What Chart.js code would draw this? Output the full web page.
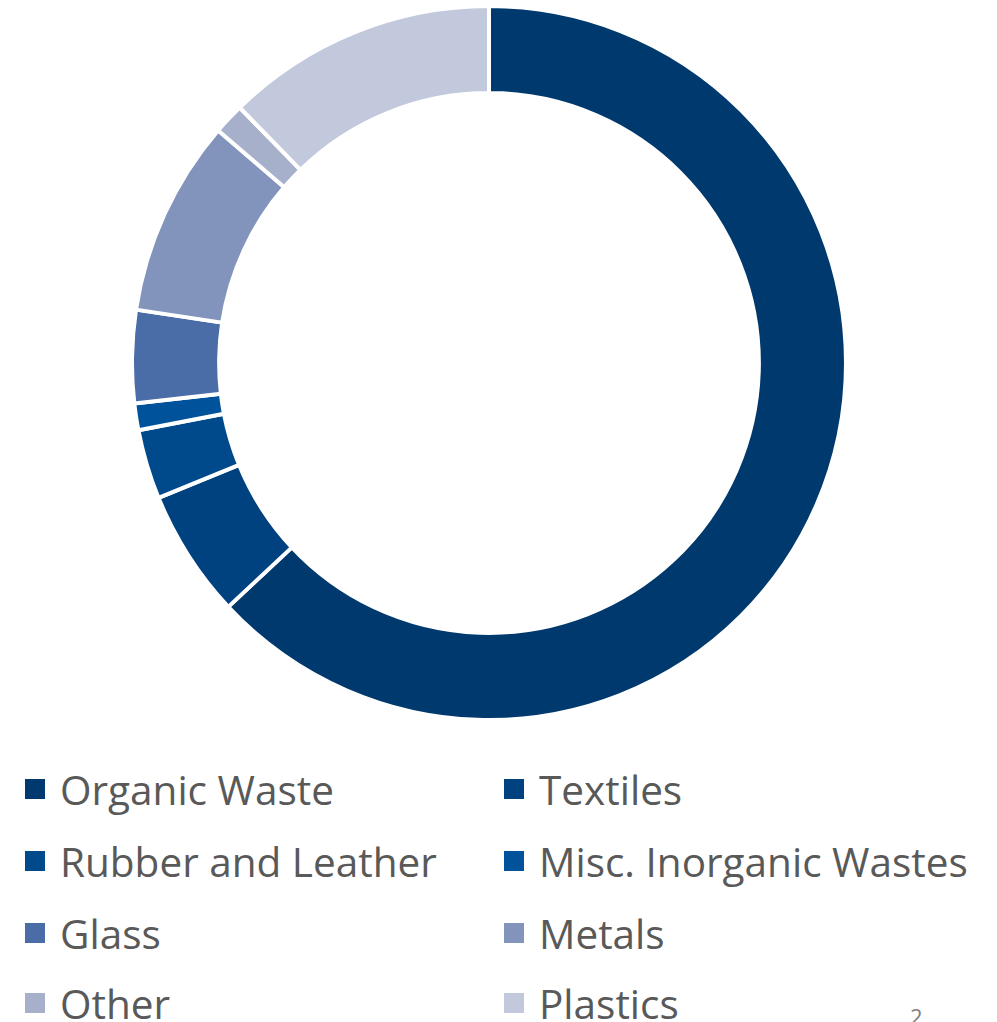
<!DOCTYPE html>
<html>
<head>
<meta charset="utf-8">
<script src="https://cdn.jsdelivr.net/npm/chart.js@4.4.1/dist/chart.umd.min.js"></script>
<style>
  html, body { margin: 0; padding: 0; background: #ffffff; }
  body { width: 997px; height: 1022px; position: relative; overflow: hidden; font-family: "Open Sans", "Noto Sans", sans-serif; }
  #wrap { position: absolute; left: 130px; top: 4px; width: 718px; height: 718px; }
  #legend { position: absolute; left: 0; top: 760px; width: 997px; }
  .item { position: absolute; display: flex; align-items: center; color: #595959; font-size: 40.5px; white-space: nowrap; }
  .box { width: 20px; height: 20px; margin-right: 15px; flex: none; }
  #pg { position: absolute; left: 910px; top: 1001px; font-size: 22px; color: #7f7f7f; }
</style>
</head>
<body>
<div id="wrap"><canvas id="c" width="718" height="718"></canvas></div>
<div id="legend"></div>
<div id="pg">2</div>
<script>
const categories = ["Organic Waste", "Textiles", "Rubber and Leather", "Misc. Inorganic Wastes", "Glass", "Metals", "Other", "Plastics"];
const shares = [63.0, 5.8, 3.15, 1.2, 4.2, 8.9, 1.4, 12.3];
const colors = ["#00396D", "#00427F", "#004A8B", "#00529A", "#4A6CA7", "#8294BB", "#A6B0CB", "#C2C9DC"];

const chart = new Chart(document.getElementById('c'), {
  type: 'doughnut',
  data: {
    labels: categories,
    datasets: [{
      data: shares,
      backgroundColor: colors,
      borderColor: '#ffffff',
      borderWidth: 4
    }]
  },
  options: {
    responsive: false,
    animation: false,
    cutout: '75.6%',
    layout: { padding: 0 },
    plugins: { legend: { display: false }, tooltip: { enabled: false } }
  }
});

// HTML legend built from the same arrays (two columns)
const legend = document.getElementById('legend');
const colX = [25, 504];
const rowY = [29, 101, 173, 243];
categories.forEach((name, i) => {
  const d = document.createElement('div');
  d.className = 'item';
  d.style.left = colX[i % 2] + 'px';
  d.style.top = (rowY[Math.floor(i / 2)] - 30) + 'px';
  d.style.height = '60px';
  const b = document.createElement('span');
  b.className = 'box';
  b.style.background = colors[i];
  const t = document.createElement('span');
  t.textContent = name;
  d.appendChild(b); d.appendChild(t);
  legend.appendChild(d);
});
</script>
</body>
</html>
